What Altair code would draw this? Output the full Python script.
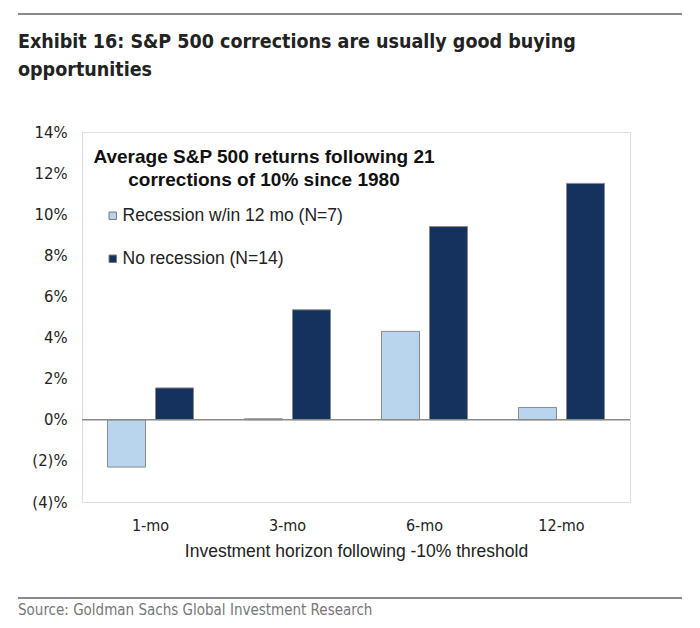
import altair as alt
import pandas as pd

horizons = ["1-mo", "3-mo", "6-mo", "12-mo"]
series_names = ["Recession w/in 12 mo (N=7)", "No recession (N=14)"]
recession_vals = [-2.3, 0.05, 4.3, 0.6]
no_recession_vals = [1.55, 5.35, 9.4, 11.5]
y_ticks = [-4, -2, 0, 2, 4, 6, 8, 10, 12, 14]
colors = ["#b9d5ee", "#15325e"]

title_lines = ["Exhibit 16: S&P 500 corrections are usually good buying", "opportunities"]
legend_title = ["Average S&P 500 returns following 21", "corrections of 10% since 1980"]
source_text = "Source: Goldman Sachs Global Investment Research"
x_title = "Investment horizon following -10% threshold"

rows = []
for h, a, b in zip(horizons, recession_vals, no_recession_vals):
    rows.append({"horizon": h, "series": series_names[0], "value": a})
    rows.append({"horizon": h, "series": series_names[1], "value": b})
df = pd.DataFrame(rows)

W, H = 548, 370
narrow = "Liberation Sans Narrow, Arial Narrow, DejaVu Sans Condensed, Liberation Sans"

bars = alt.Chart(df).mark_bar(stroke="#8a8a8a", strokeWidth=1).encode(
    x=alt.X("horizon:N", sort=horizons,
            scale=alt.Scale(paddingInner=0.372, paddingOuter=0.186),
            axis=alt.Axis(title=x_title, labelAngle=0, ticks=False, domain=False,
                          labelPadding=15, titlePadding=9, labelFontSize=16,
                          titleFontSize=17.5, titleFontWeight="normal",
                          labelFont=narrow, titleFont="Liberation Sans",
                          labelColor="#222", titleColor="#222")),
    xOffset=alt.XOffset("series:N", sort=series_names,
                        scale=alt.Scale(paddingInner=0.208)),
    y=alt.Y("value:Q", scale=alt.Scale(domain=[-4, 14], nice=False),
            axis=alt.Axis(title=None, values=y_ticks, grid=False, ticks=False,
                          domain=False, labelPadding=15, labelFontSize=16.5,
                          labelFont=narrow, labelColor="#222",
                          labelExpr="datum.value < 0 ? '(' + abs(datum.value) + ')%' : datum.value + '%'")),
    color=alt.Color("series:N", sort=series_names,
                    scale=alt.Scale(domain=series_names, range=colors),
                    legend=alt.Legend(orient="none", legendX=22, legendY=75,
                                      title=None, labelFontSize=17.5,
                                      labelFont="Liberation Sans", labelColor="#222",
                                      symbolType="square", symbolSize=55,
                                      symbolStrokeColor="#777", symbolStrokeWidth=1,
                                      rowPadding=24, labelOffset=1,
                                      padding=0, labelLimit=400)),
)

zero = alt.Chart(pd.DataFrame({"v": [0]})).mark_rule(color="#8a8a8a", strokeWidth=1.5).encode(y="v:Q")

def txt(text, x, y, size, weight="normal", color="#222", font=narrow, align="left"):
    return alt.Chart(pd.DataFrame({"t": [text]})).mark_text(
        align=align, baseline="middle", fontSize=size, fontWeight=weight,
        color=color, font=font).encode(text="t:N", x=alt.value(x), y=alt.value(y))

top_rule = alt.Chart(pd.DataFrame({"a": [0]})).mark_rule(color="#888", strokeWidth=2).encode(
    x=alt.value(-64), x2=alt.value(600), y=alt.value(-118))
bottom_rule = alt.Chart(pd.DataFrame({"a": [0]})).mark_rule(color="#888", strokeWidth=2).encode(
    x=alt.value(-64), x2=alt.value(600), y=alt.value(466))

chart = alt.layer(
    bars, zero, top_rule, bottom_rule,
    txt(title_lines[0], -64, -90, 19.5, "bold", "#222"),
    txt(title_lines[1], -64, -62, 19.5, "bold", "#222"),
    txt(legend_title[0], 182, 25, 19, "bold", "#111", "Liberation Sans", "center"),
    txt(legend_title[1], 182, 48, 19, "bold", "#111", "Liberation Sans", "center"),
    txt(source_text, -64, 478, 15, "normal", "#777"),
).properties(
    width=W, height=H,
    autosize=alt.AutoSizeParams(type="none"),
    padding={"left": 74, "top": 124, "right": 62, "bottom": 118},
).configure_view(stroke="#999", strokeWidth=1.5).configure(background="white")

chart.save("out.html", embed_options={"renderer": "svg", "actions": False})
